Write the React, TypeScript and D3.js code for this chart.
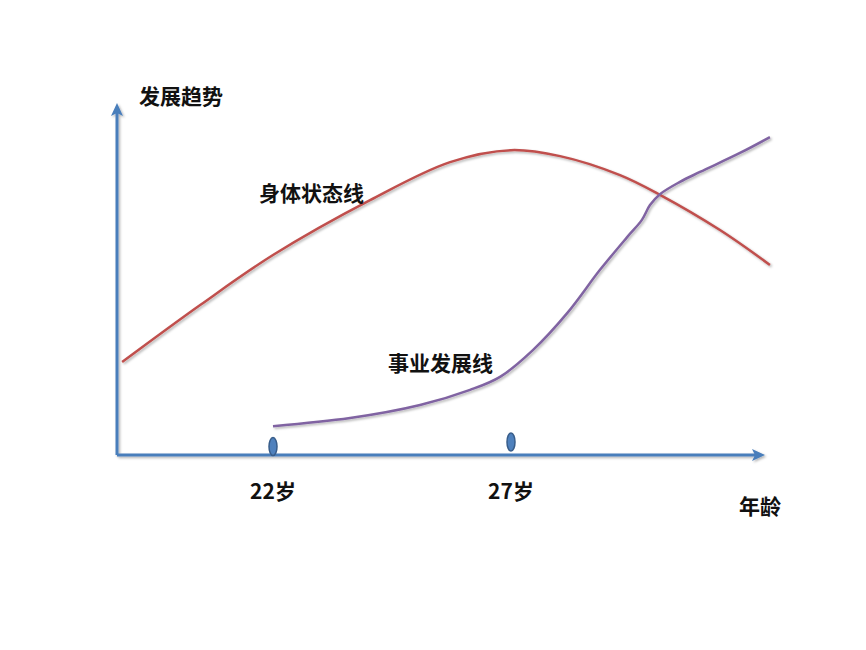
import React from "react";
import * as d3 from "d3";

const bodyAges = [18.83, 20.47, 22, 24.04, 25.72, 27, 28.03, 29.29, 30.13, 31.39, 32.44];
const bodyTrend = [26.4, 42.6, 56.8, 72.4, 83.2, 86.6, 84.9, 79.5, 73.9, 63.9, 54.0];

const careerAges = [22, 23.62, 25.09, 26.14, 26.77, 27.46, 28.18, 28.87, 29.44, 29.75, 29.92, 30.13, 30.55, 30.97, 31.81, 32.44];
const careerTrend = [8.2, 10.5, 14.2, 18.5, 22.2, 29.8, 40.3, 52.6, 61.9, 66.8, 71.0, 74.1, 77.6, 80.4, 85.8, 90.3];

const markerAges = [22, 27];
const markerHeights = [2.4, 3.7];
const tickLabels = ["22岁", "27岁"];

const W = 866;
const H = 650;
const FONT = "'Noto Sans CJK SC', 'Noto Sans CJK JP', sans-serif";

export default function App() {
  const x = d3.scaleLinear().domain([22, 27]).range([273, 511]);
  const y = d3.scaleLinear().domain([0, 100]).range([455, 103]);

  const x0 = x.invert(117);
  const xEnd = x.invert(765);

  const line = d3
    .line<[number, number]>()
    .x((d) => x(d[0]))
    .y((d) => y(d[1]))
    .curve(d3.curveCatmullRom.alpha(0.5));

  const bodyPts: [number, number][] = bodyAges.map((a, i) => [a, bodyTrend[i]]);
  const careerPts: [number, number][] = careerAges.map((a, i) => [a, careerTrend[i]]);

  const axisColor = "#4a7ebb";
  const ax = x(x0);
  const ay = y(0);
  const yTop = y(100);
  const xRight = x(xEnd);

  return (
    <svg width={W} height={H} style={{ position: "absolute", left: 0, top: 0, background: "#fff" }}>
      <defs>
        <filter id="sh" x="-10%" y="-10%" width="120%" height="120%">
          <feDropShadow dx="1.5" dy="1.5" stdDeviation="1" floodColor="#000" floodOpacity="0.3" />
        </filter>
      </defs>
      <g filter="url(#sh)">
        <line x1={ax} y1={ay} x2={ax} y2={yTop + 8} stroke={axisColor} strokeWidth={3} />
        <path d={`M${ax},${yTop} L${ax - 6},${yTop + 13} L${ax},${yTop + 10} L${ax + 6},${yTop + 13} Z`} fill={axisColor} />
        <line x1={ax} y1={ay} x2={xRight - 8} y2={ay} stroke={axisColor} strokeWidth={3} />
        <path d={`M${xRight},${ay} L${xRight - 13},${ay - 6} L${xRight - 10},${ay} L${xRight - 13},${ay + 6} Z`} fill={axisColor} />
      </g>

      <g filter="url(#sh)">
        <path d={line(bodyPts) || ""} fill="none" stroke="#c0504d" strokeWidth={2.5} />
        <path d={line(careerPts) || ""} fill="none" stroke="#8064a2" strokeWidth={2.5} />
      </g>

      {markerAges.map((a, i) => (
        <ellipse
          key={a}
          cx={x(a)}
          cy={y(markerHeights[i])}
          rx={4}
          ry={9}
          fill="#4f81bd"
          stroke="#385d8a"
          strokeWidth={1.5}
        />
      ))}

      <g fontFamily={FONT} fontWeight="bold" fill="#111">
        <text x={139} y={104} fontSize={21}>发展趋势</text>
        <text x={259} y={201} fontSize={21}>身体状态线</text>
        <text x={388} y={371} fontSize={21}>事业发展线</text>
        {markerAges.map((a, i) => (
          <text key={a} x={x(a)} y={499} fontSize={21} textAnchor="middle">
            {tickLabels[i]}
          </text>
        ))}
        <text x={739} y={514} fontSize={21}>年龄</text>
      </g>
    </svg>
  );
}
